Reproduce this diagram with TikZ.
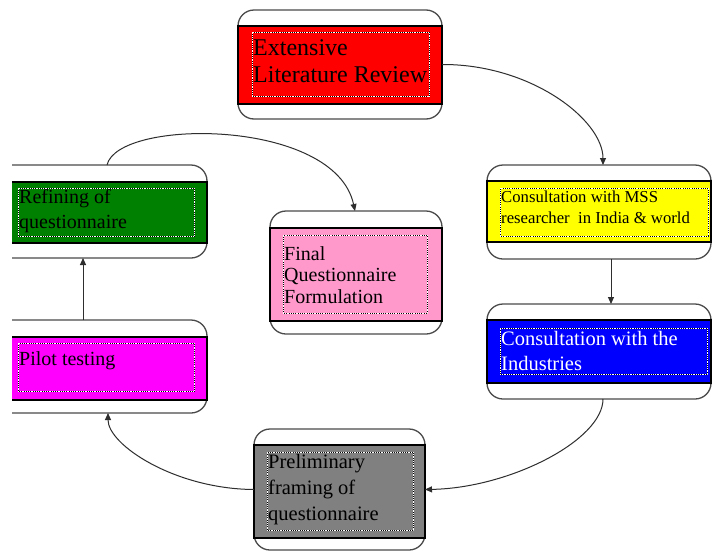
\documentclass[tikz,border=0pt]{standalone}
\usepackage{fontspec}
\setmainfont{Liberation Serif}
\usetikzlibrary{arrows.meta}
\definecolor{edgegray}{HTML}{4A4A4A}
\definecolor{arrowgray}{HTML}{2E2E2E}
\definecolor{litred}{HTML}{FF0000}
\definecolor{msryellow}{HTML}{FFFF00}
\definecolor{indblue}{HTML}{0000FF}
\definecolor{pregray}{HTML}{808080}
\definecolor{refgreen}{HTML}{008000}
\definecolor{pilmagenta}{HTML}{FF00FF}
\definecolor{finpink}{HTML}{FF99CC}
\tikzset{
 outerbox/.style={draw=edgegray, line width=1.3pt, rounded corners=16pt, fill=white, inner sep=0pt, outer sep=0pt},
 band/.style={draw=black, line width=1.3pt, inner sep=0pt, outer sep=0pt},
 dotbox/.style={draw=white, line width=0.9pt, dash pattern=on 0.9pt off 0.9pt, preaction={draw=black, solid}, inner sep=0pt},
 lbl/.style={anchor=north west, inner sep=0pt, align=left, text=black},
 flow/.style={draw=arrowgray, line width=1pt, -{Triangle[length=7pt,width=6pt]}},
}
\begin{document}
\begin{tikzpicture}[x=1pt,y=-1pt]
\useasboundingbox (0,0) rectangle (712,552);
\fill[white] (0,0) rectangle (712,552);
% Extensive Literature Review
\node[outerbox, minimum width=204pt, minimum height=109pt] (lit) at (340,64.5) {};
\node[band, fill=litred, minimum width=204pt, minimum height=78pt] (litband) at (340,65) {};
\node[dotbox, minimum width=177pt, minimum height=64pt] (litdot) at (340.5,64) {};
\node[lbl, font=\fontsize{24}{27}\selectfont] (littxt) at (253,37) {\rule{0pt}{18pt}Extensive\\Literature Review};
% Consultation with MSS researcher
\node[outerbox, minimum width=224pt, minimum height=94pt] (msr) at (599,212) {};
\node[band, fill=msryellow, minimum width=224pt, minimum height=61pt] (msrband) at (599,211.5) {};
\node[dotbox, minimum width=208pt, minimum height=48pt] (msrdot) at (604,212) {};
\node[lbl, font=\fontsize{16.7}{21}\selectfont] (msrtxt) at (501,189.5) {\rule{0pt}{12.5pt}Consultation with MSS\\researcher\ \ in India \& world};
% Consultation with the Industries
\node[outerbox, minimum width=224pt, minimum height=95pt] (ind) at (599,351.5) {};
\node[band, fill=indblue, minimum width=224pt, minimum height=63pt] (indband) at (599,351.5) {};
\node[dotbox, minimum width=207pt, minimum height=46pt] (inddot) at (603.5,351) {};
\node[lbl, text=white, font=\fontsize{20.5}{25}\selectfont] (indtxt) at (501,329.6) {\rule{0pt}{15.4pt}Consultation with the\\Industries};
% Preliminary framing
\node[outerbox, minimum width=171pt, minimum height=121pt] (pre) at (339.5,489.5) {};
\node[band, fill=pregray, minimum width=171pt, minimum height=93pt] (preband) at (339.5,491.5) {};
\node[dotbox, minimum width=146pt, minimum height=78pt] (predot) at (340,491) {};
\node[lbl, font=\fontsize{20.5}{26}\selectfont] (pretxt) at (268,452.6) {\rule{0pt}{15.4pt}Preliminary\\framing of\\questionnaire};
% Final Questionnaire Formulation
\node[outerbox, minimum width=172pt, minimum height=123pt] (fin) at (356,272.5) {};
\node[band, fill=finpink, minimum width=172pt, minimum height=93pt] (finband) at (356,274.5) {};
\node[dotbox, minimum width=144pt, minimum height=78pt] (findot) at (355,274) {};
\node[lbl, font=\fontsize{20}{21.5}\selectfont] (fintxt) at (284,245) {\rule{0pt}{15pt}Final\\Questionnaire\\Formulation};
% left boxes, clipped at the left margin
\begin{scope}
\clip (12,0) rectangle (712,552);
\node[outerbox, minimum width=217pt, minimum height=93pt] (ref) at (98.5,211.5) {};
\node[band, fill=refgreen, minimum width=217pt, minimum height=61pt] (refband) at (98.5,212.5) {};
\node[dotbox, minimum width=176pt, minimum height=48pt] (refdot) at (106,212) {};
\node[lbl, font=\fontsize{20}{25}\selectfont] (reftxt) at (19,188) {\rule{0pt}{15pt}Refining of\\questionnaire};
\node[outerbox, minimum width=217pt, minimum height=93pt] (pil) at (98.5,366.5) {};
\node[band, fill=pilmagenta, minimum width=217pt, minimum height=63pt] (pilband) at (98.5,368.5) {};
\node[dotbox, minimum width=176pt, minimum height=48pt] (pildot) at (106,367) {};
\node[lbl, font=\fontsize{20}{25}\selectfont] (piltxt) at (19,350) {\rule{0pt}{15pt}Pilot testing};
\end{scope}
% connectors
\draw[flow] (lit.east) .. controls (531,64) and (603,120) .. ([xshift=4pt]msr.north);
\draw[flow] ([xshift=12pt]msr.south) -- ([xshift=12pt]ind.north);
\draw[flow] ([xshift=4pt]ind.south) .. controls (603,440) and (510,488) .. (pre.east);
\draw[flow] (pre.west) .. controls (175,489) and (108,445) .. ([xshift=9.5pt]pil.south);
\draw[flow] ([xshift=-15.5pt]pil.north) -- ([xshift=-15.5pt]ref.south);
\draw[flow] ([xshift=8.5pt]ref.north) .. controls (118,118) and (335,118) .. ([xshift=-1pt]fin.north);
\end{tikzpicture}
\end{document}
